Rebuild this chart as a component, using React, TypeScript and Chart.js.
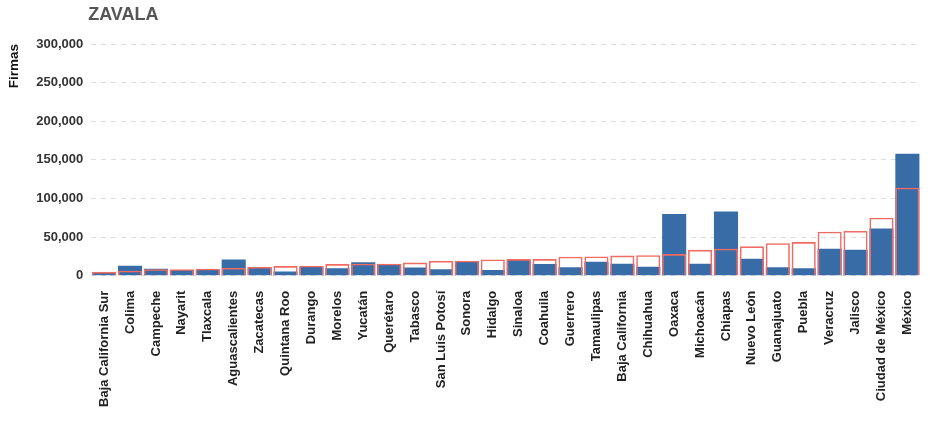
import React, { useEffect, useRef } from "react";
import { Chart, registerables } from "chart.js";

Chart.register(...registerables);

const titleText = "ZAVALA";
const yAxisTitle = "Firmas";

const states = [
  "Baja California Sur", "Colima", "Campeche", "Nayarit", "Tlaxcala", "Aguascalientes",
  "Zacatecas", "Quintana Roo", "Durango", "Morelos", "Yucatán", "Querétaro", "Tabasco",
  "San Luis Potosí", "Sonora", "Hidalgo", "Sinaloa", "Coahuila", "Guerrero", "Tamaulipas",
  "Baja California", "Chihuahua", "Oaxaca", "Michoacán", "Chiapas", "Nuevo León",
  "Guanajuato", "Puebla", "Veracruz", "Jalisco", "Ciudad de México", "México",
];

const blueValues = [
  4000, 13000, 9000, 7500, 8000, 21000, 11000, 5500, 11500, 9500, 17500, 15000, 10500,
  8500, 19000, 7500, 20500, 15000, 11000, 18000, 15500, 11500, 80000, 15500, 83000,
  22000, 11000, 9500, 35000, 33500, 61000, 158000,
];

const redValues = [
  5000, 6500, 8500, 8500, 9000, 10000, 11500, 12500, 13000, 15000, 15500, 15500, 17000,
  19000, 19500, 21000, 21500, 21500, 24500, 25000, 26000, 26500, 28000, 33500, 35000,
  38000, 42000, 43500, 57000, 58000, 75000, 114000,
];

const FONT = "'Liberation Sans', Arial, sans-serif";

const titlePlugin = {
  id: "leftTitle",
  afterDraw(chart: any) {
    const ctx = chart.ctx;
    ctx.save();
    ctx.font = `bold 18px ${FONT}`;
    ctx.fillStyle = "#555555";
    ctx.textAlign = "left";
    ctx.textBaseline = "middle";
    ctx.fillText(titleText, chart.chartArea.left - 3, 15);
    ctx.restore();
  },
};

export default function App() {
  const ref = useRef<HTMLCanvasElement>(null);
  useEffect(() => {
    if (!ref.current) return;
    const chart = new Chart(ref.current, {
      type: "bar",
      data: {
        labels: states,
        datasets: [
          {
            label: "rojo",
            data: redValues,
            backgroundColor: "rgba(255,255,255,0)",
            borderColor: "#F26B62",
            borderWidth: 1.6,
            order: 0,
            grouped: false,
            categoryPercentage: 0.93,
            barPercentage: 1,
          } as any,
          {
            label: "azul",
            data: blueValues,
            backgroundColor: "#386CA7",
            borderWidth: 0,
            order: 1,
            grouped: false,
            categoryPercentage: 0.93,
            barPercentage: 1,
          } as any,
        ],
      },
      options: {
        animation: false,
        responsive: true,
        maintainAspectRatio: false,
        layout: { padding: { top: 44, right: 2, bottom: 13, left: 6 } },
        plugins: {
          legend: { display: false },
          tooltip: { enabled: false },
          title: { display: false },
        },
        scales: {
          x: {
            grid: { display: false },
            border: { display: false },
            ticks: {
              autoSkip: false,
              maxRotation: 90,
              minRotation: 90,
              color: "#222222",
              font: { family: FONT, size: 13, weight: "bold" },
              padding: 7,
            },
          },
          y: {
            min: 0,
            max: 300000,
            grid: {
              color: "#dddddd",
              lineWidth: 1,
              drawTicks: false,
            },
            border: { display: false, dash: [5, 5] },
            ticks: {
              stepSize: 50000,
              color: "#333333",
              padding: 8,
              font: { family: FONT, size: 13, weight: "bold" },
              callback: (v: any) => Number(v).toLocaleString("en-US"),
            },
            title: {
              display: true,
              text: yAxisTitle,
              align: "end",
              color: "#111111",
              font: { family: FONT, size: 13.5, weight: "bold" },
              padding: { top: 0, bottom: 6 },
            },
          },
        },
      },
      plugins: [titlePlugin],
    });
    return () => chart.destroy();
  }, []);
  return (
    <div style={{ position: "fixed", left: 0, top: 0, width: 930, height: 427, background: "#fff" }}>
      <canvas ref={ref} />
    </div>
  );
}
